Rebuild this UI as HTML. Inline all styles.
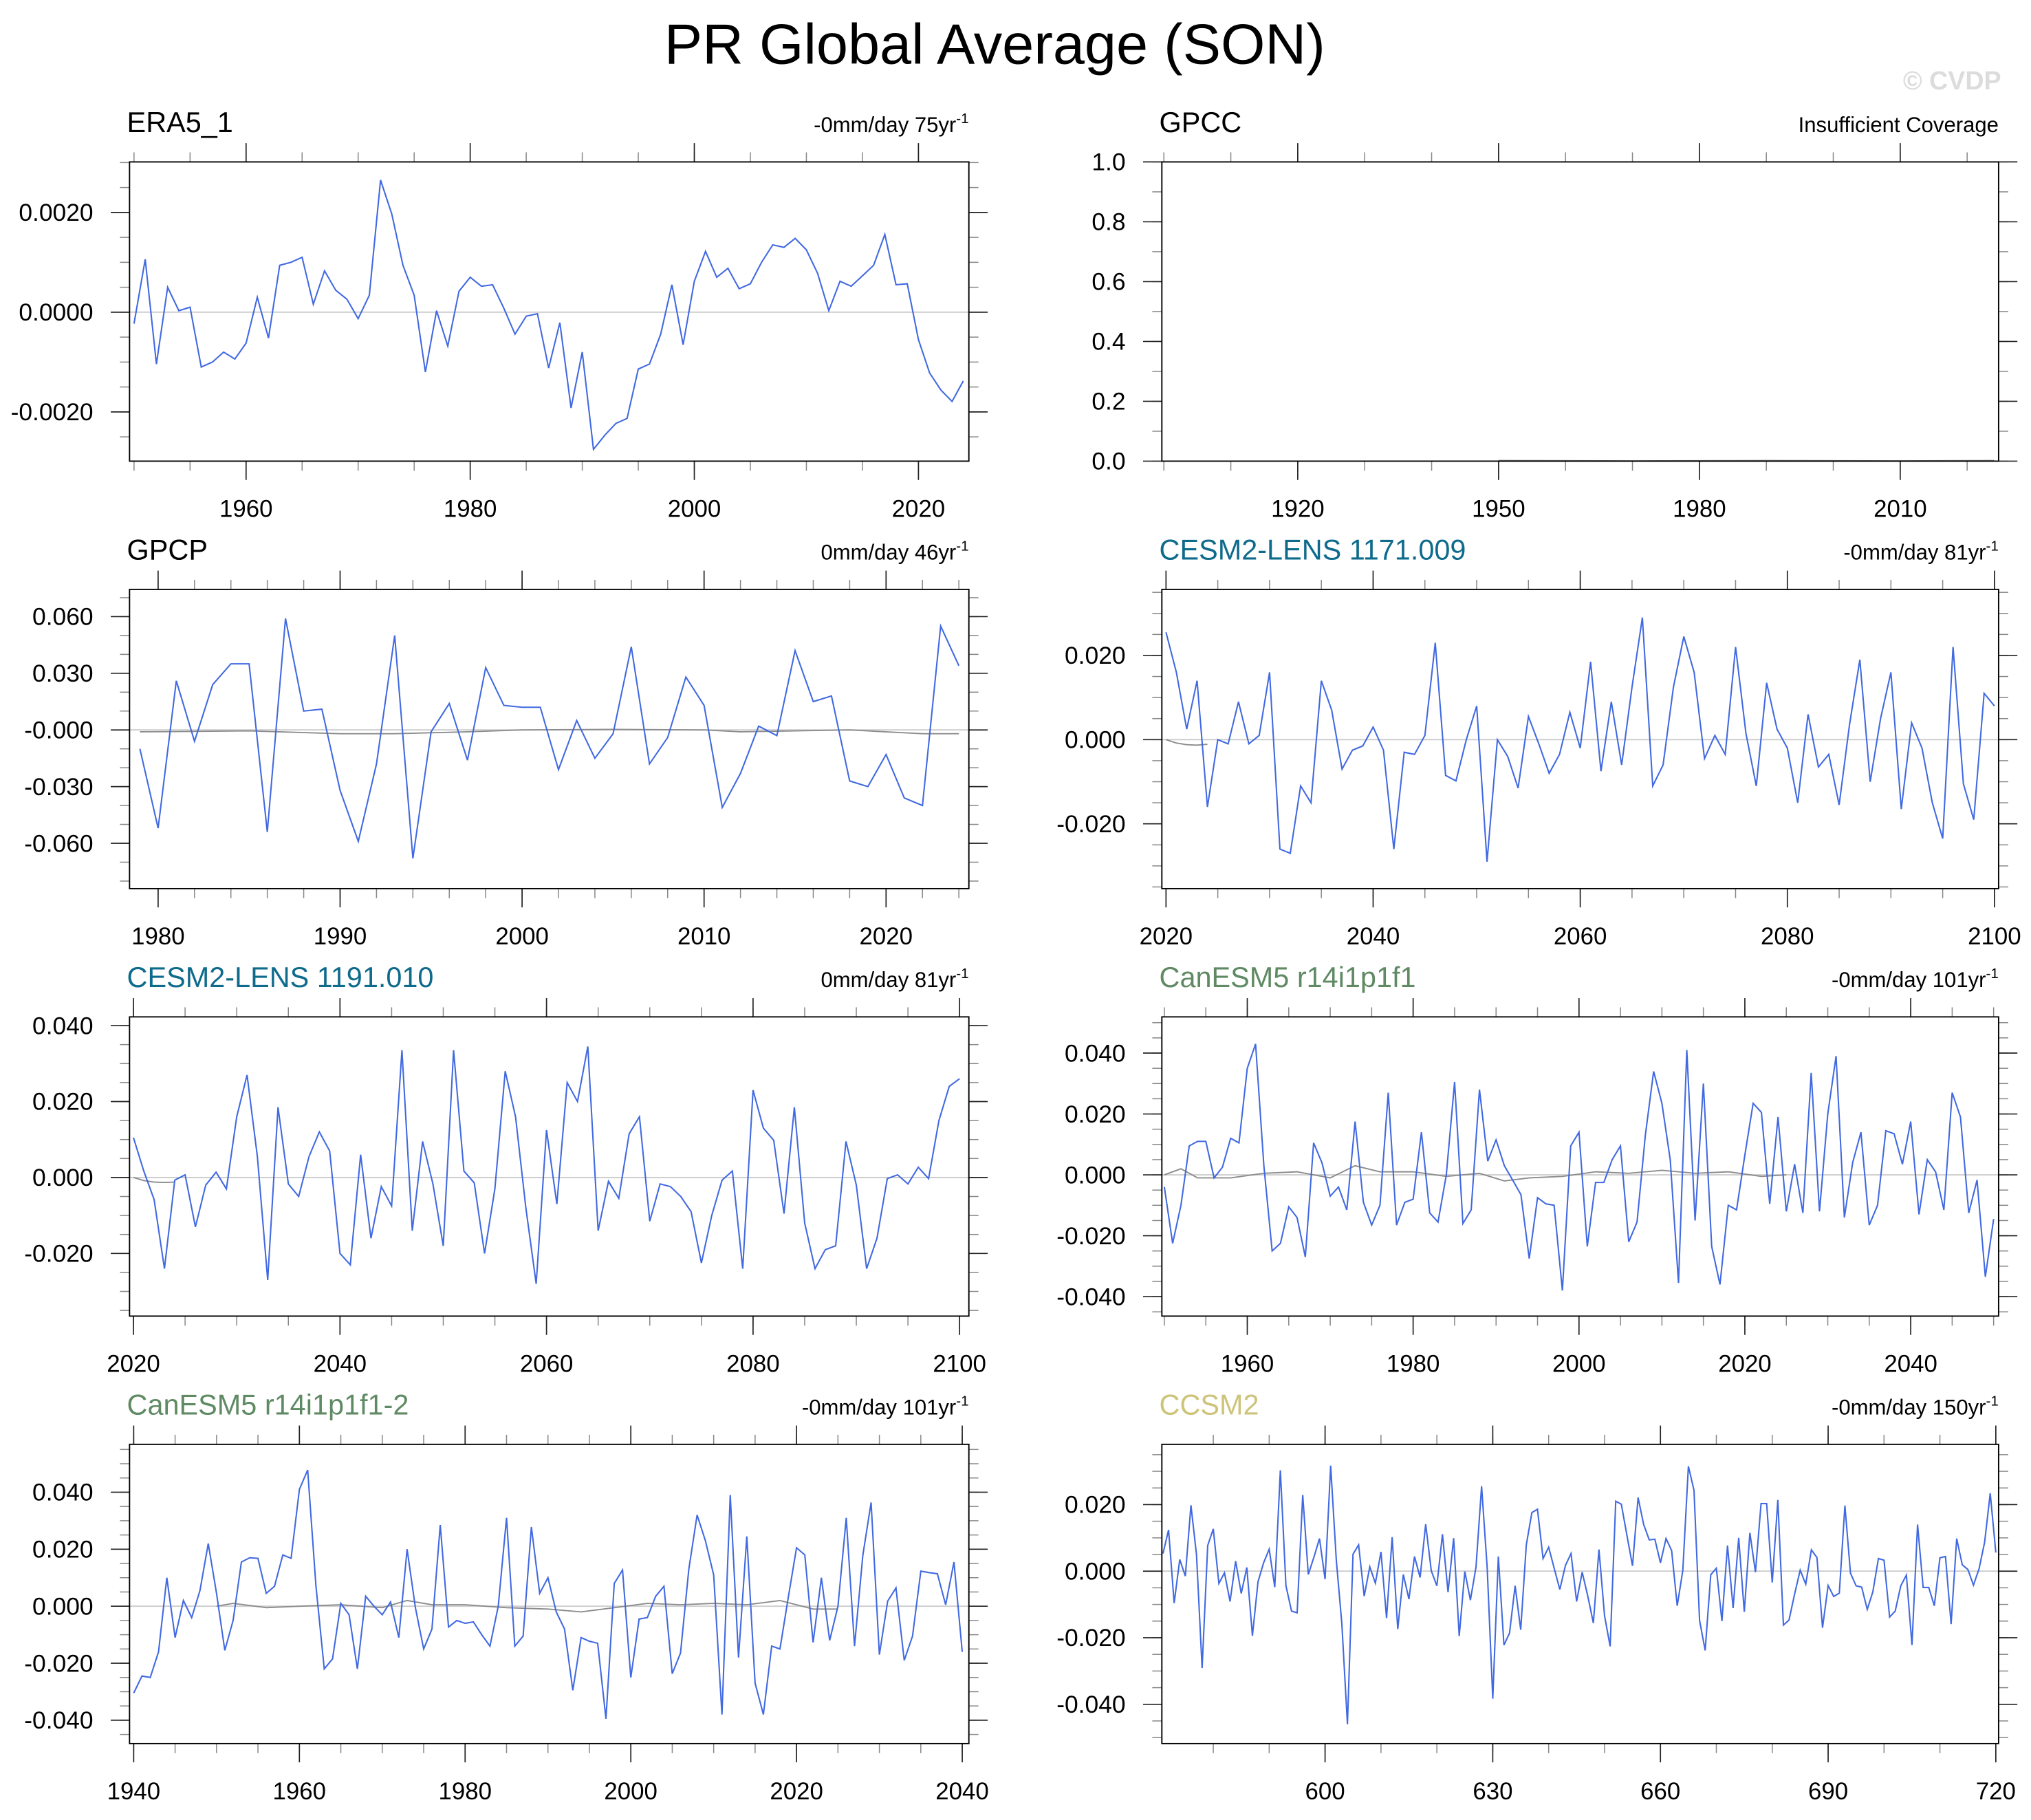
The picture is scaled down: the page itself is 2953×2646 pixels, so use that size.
<!DOCTYPE html>
<html><head><meta charset="utf-8"><style>
html,body{margin:0;padding:0;background:#fff;}
svg{display:block;font-family:"Liberation Sans",Arial,sans-serif;}
</style></head><body>
<svg id="chart" xmlns="http://www.w3.org/2000/svg" width="2953" height="2646" viewBox="0 0 1568 1405">
<rect x="0" y="0" width="1568" height="1405" fill="#fff"/>
<text x="768" y="49" text-anchor="middle" font-size="44">PR Global Average (SON)</text>
<text x="1545" y="69" text-anchor="end" font-size="20" font-weight="bold" fill="#dcdcdc">© CVDP</text>
<g id="panels"></g>
</svg>
<script>
// ---------- data ----------
const era5Years = [1950, 2024];
const era5Values = [-0.00023,0.00106,-0.00104,0.0005,0.00003,0.0001,-0.0011,-0.001,-0.0008,-0.00094,-0.00062,0.0003,-0.00052,0.00094,0.001,0.0011,0.00016,0.00083,0.00044,0.00026,-0.00013,0.00034,0.00265,0.00197,0.00094,0.00034,-0.0012,0.00003,-0.00068,0.00042,0.0007,0.00052,0.00055,0.00008,-0.00044,-0.00008,-0.00003,-0.00112,-0.00021,-0.00192,-0.0008,-0.00275,-0.00247,-0.00223,-0.00213,-0.00114,-0.00104,-0.00044,0.00055,-0.00065,0.00062,0.00122,0.0007,0.00088,0.00047,0.00057,0.001,0.00135,0.0013,0.00148,0.00125,0.00078,0.00003,0.00062,0.00052,0.00073,0.00094,0.00156,0.00055,0.00057,-0.00055,-0.00122,-0.00156,-0.00179,-0.00138];

const gpccGrayYears = [1950,1970,1990,2010,2024];
const gpccGrayValues = [0.002,0.001,0.002,0.001,0.002];

const gpcpStartYear = 1979;
const gpcpValues = [-0.010,-0.052,0.026,-0.006,0.024,0.035,0.035,-0.054,0.059,0.010,0.011,-0.032,-0.059,-0.018,0.050,-0.068,-0.001,0.014,-0.016,0.033,0.013,0.012,0.012,-0.021,0.005,-0.015,-0.002,0.044,-0.018,-0.004,0.028,0.013,-0.041,-0.023,0.002,-0.003,0.042,0.015,0.018,-0.027,-0.030,-0.013,-0.036,-0.040,0.055,0.034];
const gpcpGrayYears = [1979,1985,1990,1993,1997,2000,2005,2010,2012,2015,2018,2022,2024];
const gpcpGrayValues = [-0.001,-0.0005,-0.002,-0.002,-0.001,0,0.0003,0,-0.001,-0.0005,0,-0.002,-0.002];

const cesm1171StartYear = 2020;
const cesm1171Values = [0.0255,0.016,0.0025,0.014,-0.016,0,-0.001,0.009,-0.001,0.001,0.016,-0.026,-0.027,-0.011,-0.015,0.014,0.007,-0.007,-0.0025,-0.0015,0.003,-0.0025,-0.026,-0.003,-0.0035,0.001,0.023,-0.0085,-0.0098,0,0.008,-0.029,0,-0.004,-0.0115,0.0055,-0.001,-0.008,-0.0035,0.0065,-0.002,0.0185,-0.0075,0.009,-0.006,0.0125,0.029,-0.011,-0.006,0.0125,0.0245,0.016,-0.0045,0.001,-0.0035,0.022,0.0015,-0.011,0.0135,0.0025,-0.002,-0.015,0.006,-0.0065,-0.0035,-0.0155,0.0035,0.019,-0.010,0.005,0.016,-0.0165,0.004,-0.002,-0.015,-0.0235,0.022,-0.0105,-0.019,0.011,0.008];
const cesm1171GrayYears = [2020,2021,2022,2023,2024];
const cesm1171GrayValues = [0,-0.0008,-0.0012,-0.0013,-0.0011];

const cesm1191StartYear = 2020;
const cesm1191Values = [0.0105,0.0017,-0.0058,-0.024,-0.0007,0.0007,-0.013,-0.002,0.0014,-0.003,0.016,0.027,0.0055,-0.027,0.0185,-0.0017,-0.005,0.0055,0.012,0.007,-0.020,-0.023,0.006,-0.016,-0.0024,-0.0075,0.0335,-0.014,0.0095,-0.0017,-0.018,0.0335,0.0017,-0.0014,-0.020,-0.003,0.028,0.016,-0.008,-0.028,0.0125,-0.007,0.025,0.020,0.0345,-0.014,-0.001,-0.0055,0.0115,0.016,-0.0115,-0.0017,-0.0024,-0.005,-0.009,-0.0225,-0.010,-0.0007,0.0017,-0.024,0.023,0.013,0.0098,-0.0095,0.0185,-0.012,-0.024,-0.019,-0.018,0.0095,-0.002,-0.024,-0.016,-0.0003,0.0007,-0.0017,0.0027,-0.0003,0.015,0.024,0.026];
const cesm1191GrayYears = [2020,2021,2022,2023,2024];
const cesm1191GrayValues = [0,-0.0008,-0.0012,-0.0013,-0.0012];

const canesmStartYear = 1950;
const canesmValues = [-0.004,-0.0225,-0.010,0.0095,0.011,0.011,-0.001,0.0025,0.012,0.0105,0.035,0.043,0.003,-0.025,-0.0225,-0.0105,-0.014,-0.027,0.0105,0.004,-0.007,-0.004,-0.0115,0.0175,-0.009,-0.0165,-0.010,0.027,-0.0165,-0.009,-0.008,0.014,-0.0125,-0.0155,0,0.0305,-0.016,-0.0115,0.028,0.0045,0.0115,0.003,-0.0017,-0.0065,-0.0275,-0.0075,-0.0095,-0.010,-0.038,0.0095,0.014,-0.0235,-0.0025,-0.0025,0.005,0.0095,-0.022,-0.0155,0.013,0.034,0.0235,0.005,-0.0355,0.041,-0.015,0.030,-0.0235,-0.036,-0.010,-0.0115,0.0065,0.0235,0.0205,-0.0095,0.019,-0.012,0.0035,-0.0125,0.0335,-0.012,0.020,0.039,-0.014,0.004,0.014,-0.0165,-0.010,0.0145,0.0135,0.0035,0.0175,-0.013,0.005,0.001,-0.0115,0.027,0.019,-0.0125,-0.0017,-0.0335,-0.0145];
const canesmGrayYears = [1950,1952,1954,1958,1962,1966,1970,1973,1976,1980,1984,1988,1991,1994,1998,2002,2006,2010,2014,2018,2022,2025];
const canesmGrayValues = [0,0.002,-0.001,-0.001,0.0005,0.001,-0.001,0.003,0.001,0.001,-0.0005,0.0005,-0.002,-0.001,-0.0005,0.001,0.0005,0.0015,0.0005,0.001,-0.0005,0];

const canesm2StartYear = 1940;
const canesm2Values = [-0.0305,-0.0245,-0.025,-0.016,0.010,-0.011,0.002,-0.004,0.0055,0.022,0.0045,-0.0155,-0.005,0.0155,0.017,0.0168,0.0045,0.007,0.018,0.0168,0.041,0.0478,0.007,-0.022,-0.0185,0.001,-0.003,-0.022,0.0035,0,-0.003,0.0015,-0.011,0.020,-0.0005,-0.015,-0.008,0.0285,-0.0073,-0.005,-0.006,-0.0055,-0.010,-0.014,0,0.031,-0.014,-0.0105,0.0278,0.0045,0.010,-0.002,-0.008,-0.0295,-0.011,-0.0123,-0.013,-0.0395,0.008,0.0127,-0.025,-0.0045,-0.004,0.0035,0.007,-0.0237,-0.0164,0.013,0.032,0.023,0.011,-0.038,0.039,-0.018,0.0245,-0.027,-0.038,-0.014,-0.015,0.003,0.0205,0.018,-0.0127,0.010,-0.012,0,0.031,-0.014,0.0178,0.0364,-0.017,0.0018,0.0064,-0.019,-0.0105,0.0123,0.0118,0.0114,0.0005,0.0155,-0.016];
const canesm2GrayYears = [1950,1952,1956,1960,1965,1970,1973,1976,1980,1985,1990,1994,1998,2002,2006,2010,2014,2018,2022,2025];
const canesm2GrayValues = [0,0.001,-0.0005,0,0.0005,-0.0005,0.002,0.0005,0.0005,-0.0005,-0.001,-0.002,-0.0005,0.001,0.0005,0.001,0.0005,0.002,-0.001,-0.001];

const ccsm2StartYear = 571;
const ccsm2ValuesMilli = [5.3,12.4,-9.6,3.5,-1.5,19.8,4.9,-29.1,7.7,12.7,-3.7,-0.5,-9.1,3.0,-6.7,1.1,-19.4,-3.2,2.5,6.6,-4.8,30.3,-4.4,-12.0,-12.5,22.9,-1.0,4.2,9.8,-2.4,31.7,3.5,-15.8,-46.0,5.1,7.9,-7.5,1.3,-3.6,5.8,-14.1,10.2,-17.4,-1.0,-8.4,4.4,-1.9,14.1,0.1,-4.4,11.1,-6.3,9.9,-19.5,-0.1,-8.7,1.2,25.5,1.1,-38.3,4.4,-22.2,-18.6,-4.4,-17.6,7.9,17.6,18.6,3.8,7.2,0.8,-5.5,1.7,5.3,-9.1,-0.3,
-7.5,-15.6,6.5,-13.4,-22.6,21.0,20.1,10.8,1.6,22.1,14.0,9.4,9.6,2.5,9.8,6.2,-10.4,0.2,31.5,24.3,-14.8,-23.8,-1.1,0.9,-15.0,7.7,-11.1,10.0,-12.2,11.5,-0.3,20.3,20.3,-3.4,21.4,-16.2,-14.7,-6.9,0.3,-3.9,6.4,4.1,-17.0,-4.3,-7.6,-6.6,19.7,-0.6,-4.4,-4.8,-11.5,-6.2,3.8,3.3,-13.8,-12.0,-4.4,-1.2,-22.2,14.0,-4.9,-4.9,-10.4,4.0,4.4,-15.9,9.8,1.9,0.5,-4.2,0.7,8.7,23.4,5.6];

// tick labels
const p1YTicks = [0.002,0,-0.002]; const p1YLabels = ["0.0020","0.0000","-0.0020"];
const p1XTicks = [1960,1980,2000,2020];
const p2YTicks = [0,0.2,0.4,0.6,0.8,1.0]; const p2YLabels = ["0.0","0.2","0.4","0.6","0.8","1.0"];
const p2XTicks = [1920,1950,1980,2010];
const p3YTicks = [0.06,0.03,0,-0.03,-0.06]; const p3YLabels = ["0.060","0.030","-0.000","-0.030","-0.060"];
const p3XTicks = [1980,1990,2000,2010,2020];
const p4YTicks = [0.02,0,-0.02]; const p4YLabels = ["0.020","0.000","-0.020"];
const p4XTicks = [2020,2040,2060,2080,2100];
const p5YTicks = [0.04,0.02,0,-0.02]; const p5YLabels = ["0.040","0.020","0.000","-0.020"];
const p5XTicks = [2020,2040,2060,2080,2100];
const p6YTicks = [0.04,0.02,0,-0.02,-0.04]; const p6YLabels = ["0.040","0.020","0.000","-0.020","-0.040"];
const p6XTicks = [1960,1980,2000,2020,2040];
const p7YTicks = [0.04,0.02,0,-0.02,-0.04]; const p7YLabels = ["0.040","0.020","0.000","-0.020","-0.040"];
const p7XTicks = [1940,1960,1980,2000,2020,2040];
const p8YTicks = [0.02,0,-0.02,-0.04]; const p8YLabels = ["0.020","0.000","-0.020","-0.040"];
const p8XTicks = [600,630,660,690,720];

// ---------- drawing ----------
const NS = "http://www.w3.org/2000/svg";
const root = document.getElementById('panels');
function mk(tag, attrs, parent){const e=document.createElementNS(NS,tag);for(const k in attrs)e.setAttribute(k,attrs[k]);(parent||root).appendChild(e);return e;}
function seq(start,n){const a=[];for(let i=0;i<n;i++)a.push(start+i);return a;}

function panel(c){
  const g = mk('g',{});
  
  
  const L=c.box[0],R=c.box[1],T=c.box[2],B=c.box[3];
  const sx=v=>L+(v-c.xd[0])/(c.xd[1]-c.xd[0])*(R-L);
  const sy=v=>B-(v-c.yd[0])/(c.yd[1]-c.yd[0])*(B-T);
  const tk = mk('g',{},g);
  
  
  for(let v=Math.ceil(c.xd[0]/c.xm)*c.xm; v<=c.xd[1]; v+=c.xm){
    const x=sx(v);
    mk('line',{x1:x,x2:x,y1:B,y2:B+7.4,stroke:'#888','stroke-width':0.8},tk);
    mk('line',{x1:x,x2:x,y1:T,y2:T-7.4,stroke:'#888','stroke-width':0.8},tk);
  }
  for(let k=Math.ceil(c.yd[0]/c.ym-1e-9); k*c.ym<=c.yd[1]+1e-12; k++){
    const y=sy(k*c.ym);
    mk('line',{x1:L,x2:L-7.4,y1:y,y2:y,stroke:'#888','stroke-width':0.8},tk);
    mk('line',{x1:R,x2:R+7.4,y1:y,y2:y,stroke:'#888','stroke-width':0.8},tk);
  }
  c.xt.forEach(v=>{
    const x=sx(v);
    mk('line',{x1:x,x2:x,y1:B,y2:B+14.5,stroke:'#222','stroke-width':0.9},tk);
    mk('line',{x1:x,x2:x,y1:T,y2:T-14.5,stroke:'#222','stroke-width':0.9},tk);
    const t=mk('text',{x:x,y:B+43,'text-anchor':'middle','font-size':18.5},g);
    
    
    t.textContent=String(v);
  });
  c.yt.forEach((v,i)=>{
    const y=sy(v);
    mk('line',{x1:L,x2:L-14.5,y1:y,y2:y,stroke:'#222','stroke-width':0.9},tk);
    mk('line',{x1:R,x2:R+14.5,y1:y,y2:y,stroke:'#222','stroke-width':0.9},tk);
    const t=mk('text',{x:L-28,y:y+6.5,'text-anchor':'end','font-size':18.8},g);
    
    
    t.textContent=c.yl[i];
  });
  if(c.zero){ const z=mk('line',{x1:L,x2:R,y1:sy(0),y2:sy(0),stroke:'#cccccc','stroke-width':1},g);
    
     }
  if(c.gy){
    const pts=c.gy.map((yr,i)=>sx(yr).toFixed(2)+','+sy(c.gv[i]).toFixed(2)).join(' ');
    const p=mk('polyline',{points:pts,fill:'none',stroke:'#8c8c8c','stroke-width':1},g);
    
    
  }
  if(c.years){
    const pts=c.years.map((yr,i)=>sx(yr).toFixed(2)+','+sy(c.vals[i]).toFixed(2)).join(' ');
    const p=mk('polyline',{points:pts,fill:'none',stroke:'#4169e1','stroke-width':1.1,'stroke-linejoin':'miter'},g);
    
    
  }
  const box=mk('rect',{x:L,y:T,width:R-L,height:B-T,fill:'none',stroke:'#000','stroke-width':1},g);
  
  
  const tt=mk('text',{x:L-2,y:T-23,'font-size':22,fill:c.tc},g);
  
  
  tt.textContent=c.title;
  const rt=mk('text',{x:R,y:T-23,'text-anchor':'end','font-size':16.5},g);
  
  
  rt.textContent=c.rt;
  if(c.sup){ const s=mk('tspan',{'font-size':11,dy:-7},rt); s.textContent='-1'; }
}

const LB=[100,748], RB=[897,1543];
panel({name:'era5',title:'ERA5_1',tc:'#000',rt:'-0mm/day 75yr',sup:1,box:[LB[0],LB[1],125,356],xd:[1949.6,2024.5],yd:[-0.002987,0.003013],xm:5,ym:0.0005,xt:p1XTicks,yt:p1YTicks,yl:p1YLabels,zero:1,years:seq(era5Years[0],era5Values.length),vals:era5Values});
panel({name:'gpcc',title:'GPCC',tc:'#000',rt:'Insufficient Coverage',sup:0,box:[RB[0],RB[1],125,356],xd:[1899.7,2024.7],yd:[0,1.0],xm:10,ym:0.1,xt:p2XTicks,yt:p2YTicks,yl:p2YLabels,zero:0,gy:gpccGrayYears,gv:gpccGrayValues});
panel({name:'gpcp',title:'GPCP',tc:'#000',rt:'0mm/day 46yr',sup:1,box:[LB[0],LB[1],455,686],xd:[1978.43,2024.55],yd:[-0.0840,0.0744],xm:2,ym:0.01,xt:p3XTicks,yt:p3YTicks,yl:p3YLabels,zero:1,gy:gpcpGrayYears,gv:gpcpGrayValues,years:seq(gpcpStartYear,gpcpValues.length),vals:gpcpValues});
panel({name:'cesm2-1171',title:'CESM2-LENS 1171.009',tc:'#0e6b8c',rt:'-0mm/day 81yr',sup:1,box:[RB[0],RB[1],455,686],xd:[2019.6,2100.4],yd:[-0.0354,0.0357],xm:5,ym:0.005,xt:p4XTicks,yt:p4YTicks,yl:p4YLabels,zero:1,gy:cesm1171GrayYears,gv:cesm1171GrayValues,years:seq(cesm1171StartYear,cesm1171Values.length),vals:cesm1171Values});
panel({name:'cesm2-1191',title:'CESM2-LENS 1191.010',tc:'#0e6b8c',rt:'0mm/day 81yr',sup:1,box:[LB[0],LB[1],785,1016],xd:[2019.62,2100.9],yd:[-0.0365,0.0423],xm:5,ym:0.005,xt:p5XTicks,yt:p5YTicks,yl:p5YLabels,zero:1,gy:cesm1191GrayYears,gv:cesm1191GrayValues,years:seq(cesm1191StartYear,cesm1191Values.length),vals:cesm1191Values});
panel({name:'canesm5',title:'CanESM5 r14i1p1f1',tc:'#5f8a63',rt:'-0mm/day 101yr',sup:1,box:[RB[0],RB[1],785,1016],xd:[1949.7,2050.6],yd:[-0.0464,0.0519],xm:5,ym:0.005,xt:p6XTicks,yt:p6YTicks,yl:p6YLabels,zero:1,gy:canesmGrayYears,gv:canesmGrayValues,years:seq(canesmStartYear,canesmValues.length),vals:canesmValues});
panel({name:'canesm5-2',title:'CanESM5 r14i1p1f1-2',tc:'#5f8a63',rt:'-0mm/day 101yr',sup:1,box:[LB[0],LB[1],1115,1346],xd:[1939.5,2040.8],yd:[-0.0482,0.0568],xm:5,ym:0.005,xt:p7XTicks,yt:p7YTicks,yl:p7YLabels,zero:1,gy:canesm2GrayYears,gv:canesm2GrayValues,years:seq(canesm2StartYear,canesm2Values.length),vals:canesm2Values});
panel({name:'ccsm2',title:'CCSM2',tc:'#cdc47a',rt:'-0mm/day 150yr',sup:1,box:[RB[0],RB[1],1115,1346],xd:[570.8,720.5],yd:[-0.0518,0.0381],xm:10,ym:0.005,xt:p8XTicks,yt:p8YTicks,yl:p8YLabels,zero:1,years:seq(ccsm2StartYear,ccsm2ValuesMilli.length),vals:ccsm2ValuesMilli.map(v=>v/1000)});
</script>
</body></html>
